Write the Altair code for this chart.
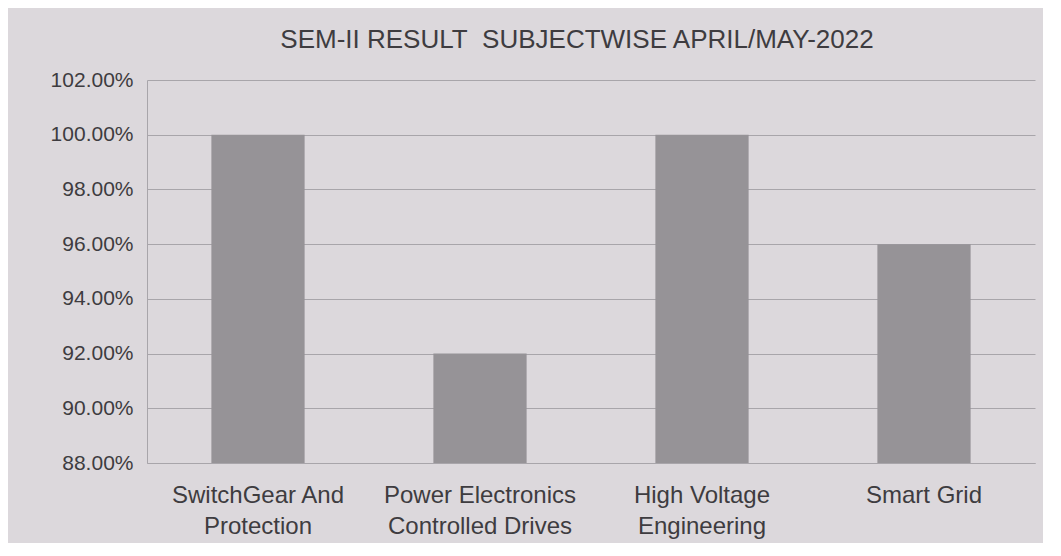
import altair as alt
import pandas as pd

subjects = [
    "SwitchGear And|Protection",
    "Power Electronics|Controlled Drives",
    "High Voltage|Engineering",
    "Smart Grid",
]
results = [1.00, 0.92, 1.00, 0.96]
y_ticks = [0.88, 0.90, 0.92, 0.94, 0.96, 0.98, 1.00, 1.02]

df = pd.DataFrame({"subject": subjects, "result": results})

FONT = "Liberation Sans"
TEXT = "#3e3c40"

chart = (
    alt.Chart(df)
    .mark_bar(color="#969397")
    .encode(
        x=alt.X(
            "subject:N",
            sort=subjects,
            title=None,
            scale=alt.Scale(paddingInner=0.58, paddingOuter=0.29),
            axis=alt.Axis(
                labelExpr="split(datum.label, '|')",
                labelAngle=0,
                labelFontSize=24,
                labelFont=FONT,
                labelColor=TEXT,
                labelPadding=20,
                labelLineHeight=31,
                labelBaseline="top",
                labelLimit=0,
                ticks=False,
                domain=True,
                domainColor="#a8a5aa",
                grid=False,
            ),
        ),
        y=alt.Y(
            "result:Q",
            title=None,
            scale=alt.Scale(domain=[0.88, 1.02], nice=False, clamp=True),
            axis=alt.Axis(
                values=y_ticks,
                format=".2%",
                labelFontSize=21,
                labelFont=FONT,
                labelColor=TEXT,
                labelPadding=14,
                ticks=False,
                domain=True,
                domainColor="#a8a5aa",
                gridColor="#a8a5aa",
                gridWidth=1.2,
                minExtent=134,
                maxExtent=134,
            ),
        ),
    )
    .properties(
        width=888,
        height=383,
        padding={"left": 5, "top": 19, "right": 8, "bottom": 5},
        title=alt.TitleParams(
            "SEM-II RESULT\u00a0\u00a0SUBJECTWISE APRIL/MAY-2022",
            font=FONT,
            fontSize=26,
            fontWeight="normal",
            color=TEXT,
            offset=16,
            dx=-14,
        ),
        background="#dcd8dc",
    )
    .configure_view(stroke=None, fill="#dcd8dc")
)

chart.save("out.html", embed_options={"renderer": "svg", "actions": False})
